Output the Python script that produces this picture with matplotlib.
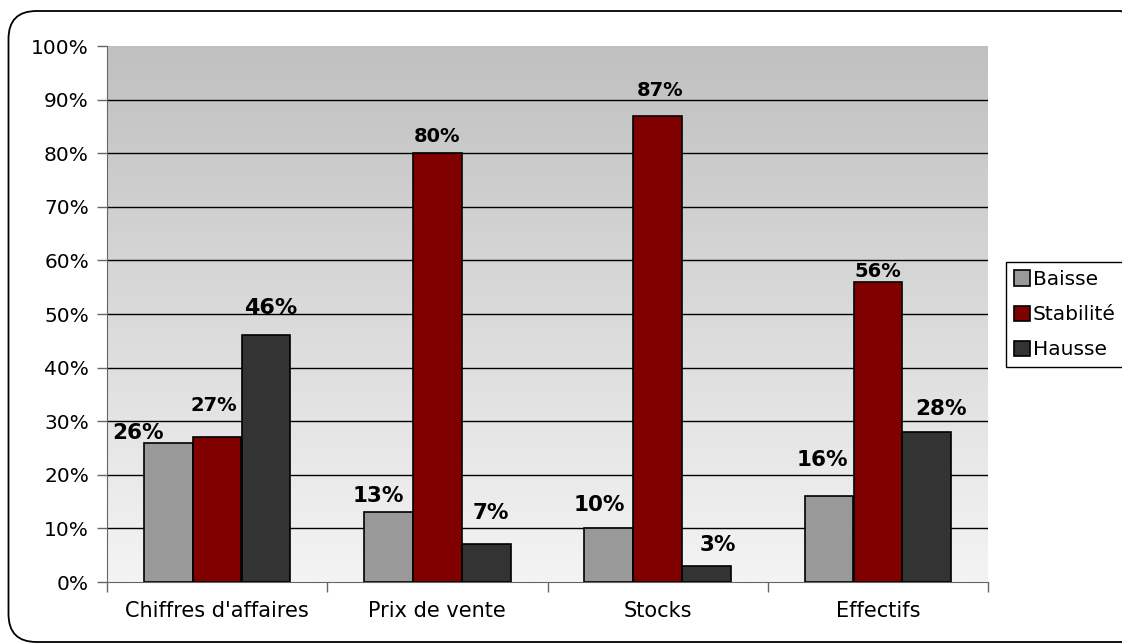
import numpy as np
import matplotlib
matplotlib.use("Agg")
import matplotlib.pyplot as plt
from matplotlib.patches import FancyBboxPatch
from matplotlib.transforms import IdentityTransform
from matplotlib.colors import LinearSegmentedColormap

categories = ["Chiffres d'affaires", "Prix de vente", "Stocks", "Effectifs"]
series = ["Baisse", "Stabilité", "Hausse"]
baisse = [26, 13, 10, 16]
stabilite = [27, 80, 87, 56]
hausse = [46, 7, 3, 28]
colors = ["#999999", "#800000", "#333333"]

# label offsets in pixels (Excel put them a bit everywhere)
offsets = [
    [(-30, 10), (-10, 16.5), (-9, 23), (-6.5, 36.5)],
    [(-3, 32), (0, 17), (2.5, 25), (0, 10)],
    [(5, 27.5), (5, 31), (11, 21), (14.5, 22.5)],
]
sizes = [
    [15.5, 15.5, 15.5, 15.5],
    [14, 14, 14, 14],
    [16, 15.5, 15.5, 15.5],
]

plt.rcParams['font.family'] = ['DejaVu Sans']

fig = plt.figure(figsize=(11.22, 6.44), dpi=100)
ax = fig.add_axes([107 / 1122, 1 - 582 / 644, 881 / 1122, 536 / 644])

# gradient background
cmap = LinearSegmentedColormap.from_list("bg", ["#f4f4f4", "#c0c0c0"])
grad = np.linspace(0, 1, 256).reshape(-1, 1)
ax.imshow(grad, cmap=cmap, aspect="auto", extent=[0, 1, 0, 1],
          transform=ax.transAxes, origin="lower", zorder=-2)

x = np.arange(len(categories))
w = 0.221
data = [baisse, stabilite, hausse]
for k in range(3):
    xs = x + (k - 1) * 0.222
    ax.bar(xs, data[k], width=w, color=colors[k], edgecolor="black",
           linewidth=1.2, label=series[k], zorder=3)
    for j in range(len(categories)):
        ax.annotate(str(data[k][j]) + "%", (xs[j], data[k][j]),
                    xytext=offsets[k][j], textcoords="offset pixels",
                    ha="center", va="center", fontsize=sizes[k][j],
                    fontweight="bold", zorder=4)

ax.set_xlim(-0.5, 3.5)
ax.set_ylim(0, 100)
for v in range(10, 100, 10):
    ax.axhline(v, color="black", linewidth=1, zorder=1)

ax.set_yticks(range(0, 101, 10))
ax.set_yticklabels([str(v) + "%" for v in range(0, 101, 10)], fontsize=14.5)
ax.set_xticks(x)
ax.set_xticklabels(categories, fontsize=15)
ax.set_xticks(np.arange(-0.5, 4, 1), minor=True)
ax.tick_params(axis="x", which="major", length=0, pad=14)
ax.tick_params(axis="x", which="minor", length=7, color="#666666", width=1)
ax.tick_params(axis="y", length=7, color="#666666", width=1, pad=6)

for s in ["top", "right"]:
    ax.spines[s].set_visible(False)
ax.spines["left"].set_color("#666666")
ax.spines["bottom"].set_color("#666666")

leg = fig.legend(loc="upper left", bbox_to_anchor=(1006 / 1122, 1 - 262 / 644),
                 bbox_transform=fig.transFigure, borderaxespad=0,
                 fontsize=14.5, fancybox=False, edgecolor="black",
                 framealpha=1, handlelength=0.78, handleheight=0.78,
                 handletextpad=0.15, labelspacing=0.8, borderpad=0.4)
leg.get_frame().set_linewidth(1)

border = FancyBboxPatch((8.5, 2), 1140, 631,
                        boxstyle="round,pad=0,rounding_size=28",
                        transform=IdentityTransform(), facecolor="none",
                        edgecolor="black", linewidth=1.3)
fig.patches.append(border)

plt.savefig("out.png", dpi=100)
